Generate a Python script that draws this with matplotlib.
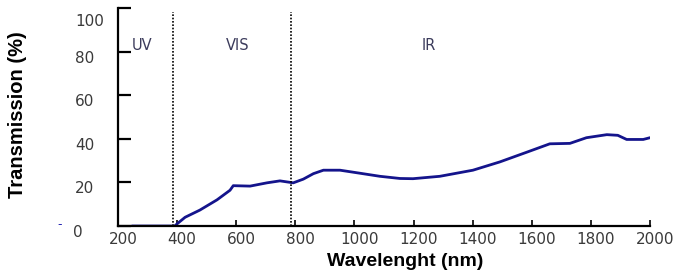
import matplotlib.pyplot as plt
import matplotlib.transforms as mtransforms

# spectrum
wavelength = [250, 300, 350, 380, 392, 400, 427, 477, 535, 579, 590, 647, 704, 748,
              793, 827, 861, 895, 951, 1019, 1086, 1154, 1198, 1289, 1401, 1492,
              1584, 1661, 1729, 1785, 1854, 1891, 1921, 1977, 2000]
transmission = [0, 0, 0, 0, 0, 1.0, 4.0, 7.3, 12.0, 16.4, 18.5, 18.3, 19.8, 20.7,
                19.8, 21.5, 24.0, 25.6, 25.6, 24.2, 22.8, 21.8, 21.7, 22.8, 25.6,
                29.4, 33.9, 37.7, 37.9, 40.5, 41.9, 41.6, 39.7, 39.7, 40.5]

region_edges = [385, 785]
region_names = ["UV", "VIS", "IR"]
region_x = [280, 605, 1250]

xticks = [200, 400, 600, 800, 1000, 1200, 1400, 1600, 1800, 2000]
yticks = [0, 20, 40, 60, 80, 100]

plt.rcParams['font.family'] = ['DejaVu Sans']

fig = plt.figure(figsize=(6.8, 2.75), dpi=100)
ax = fig.add_axes([118/680, 1-226/275, 532/680, 218/275])

ax.plot(wavelength, transmission, color="#14148c", lw=2)

for e in region_edges:
	ax.axvline(e, ymin=0, ymax=0.98, color="black", ls=(0, (1, 1)), lw=1.2)

for name, xr in zip(region_names, region_x):
	ax.text(xr, 83, name, ha="center", va="center", fontsize=10.5, color="#3c3c5c")

ax.set_xlim(200, 2000)
ax.set_ylim(0, 100)
ax.set_xticks(xticks)
ax.set_yticks(yticks)

for s in ["top", "right"]:
	ax.spines[s].set_visible(False)
for s in ["left", "bottom"]:
	ax.spines[s].set_linewidth(1.6)

ax.tick_params(axis="y", direction="in", length=9, width=1.6, labelsize=11,
	labelcolor="#3a3a3a", pad=17)
ax.tick_params(axis="x", direction="in", length=4, width=1.2, labelsize=11,
	labelcolor="#3a3a3a", pad=4)

# tick labels sit a bit off their ticks in the original
for lab, v in zip(ax.get_yticklabels(), yticks):
	dx = {100: 10, 0: -12}.get(v, 0)
	dy = -12 if v == 100 else -5
	off = mtransforms.ScaledTranslation(dx/100, dy/100, fig.dpi_scale_trans)
	lab.set_transform(lab.get_transform() + off)
for lab in ax.get_xticklabels():
	off = mtransforms.ScaledTranslation(5/100, 0, fig.dpi_scale_trans)
	lab.set_transform(lab.get_transform() + off)

fig.text(405/680, 1-262/275, "Wavelenght (nm)", ha="center", va="center",
	fontsize=14, fontweight="bold", family="Liberation Sans")
fig.text(18/680, 1-115/275, "Transmission (%)", ha="center", va="center",
	rotation=90, fontsize=14.5, fontweight="bold", family="Liberation Sans")
fig.text(60/680, 1-225/275, "-", ha="center", va="center", fontsize=9, color="#2020b0")

fig.savefig("out.png", dpi=100)
